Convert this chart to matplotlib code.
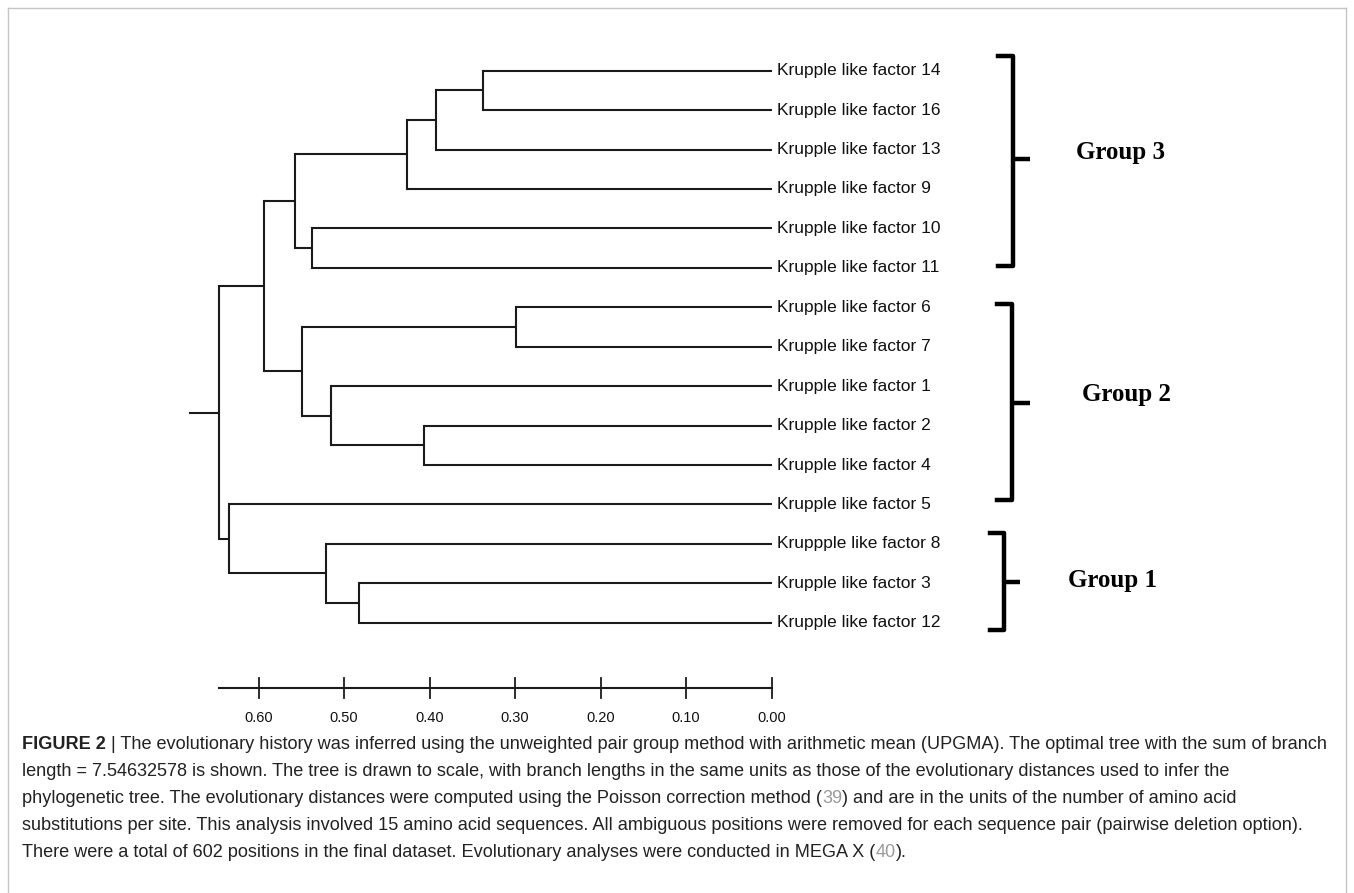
import matplotlib
matplotlib.use("Agg")
import matplotlib.pyplot as plt

# Leaves, top to bottom
leaf_names = [
    "Krupple like factor 14", "Krupple like factor 16", "Krupple like factor 13",
    "Krupple like factor 9", "Krupple like factor 10", "Krupple like factor 11",
    "Krupple like factor 6", "Krupple like factor 7", "Krupple like factor 1",
    "Krupple like factor 2", "Krupple like factor 4", "Krupple like factor 5",
    "Kruppple like factor 8", "Krupple like factor 3", "Krupple like factor 12",
]

# UPGMA merges (ids 0-14 are leaves, merge k gets id 15 + k)
merge_a = [6, 0, 16, 9, 17, 13, 8, 12, 4, 15, 19, 25, 11, 26]
merge_b = [7, 1, 2, 10, 3, 14, 18, 20, 5, 21, 23, 24, 22, 27]
merge_height = [0.299, 0.337, 0.392, 0.406, 0.426, 0.483, 0.515, 0.521,
                0.538, 0.549, 0.557, 0.593, 0.634, 0.646]
root_stub = 0.034

scale_ticks = [0.60, 0.50, 0.40, 0.30, 0.20, 0.10, 0.00]

group_names = ["Group 3", "Group 2", "Group 1"]

# caption lines; "|...|" marks the grey citation numbers
caption_lead = "FIGURE 2"
caption = [
    " | The evolutionary history was inferred using the unweighted pair group method "
    "with arithmetic mean (UPGMA). The optimal tree with the sum of branch",
    "length = 7.54632578 is shown. The tree is drawn to scale, with branch lengths in the "
    "same units as those of the evolutionary distances used to infer the",
    "phylogenetic tree. The evolutionary distances were computed using the Poisson "
    "correction method (|39|) and are in the units of the number of amino acid",
    "substitutions per site. This analysis involved 15 amino acid sequences. All ambiguous "
    "positions were removed for each sequence pair (pairwise deletion option).",
    "There were a total of 602 positions in the final dataset. Evolutionary analyses "
    "were conducted in MEGA X (|40|).",
]

W, H = 1354, 893
fig = plt.figure(figsize=(W / 100, H / 100), dpi=100)
ax = fig.add_axes([0, 0, 1, 1])
ax.axis("off")

# pixel layout of the tree: 0.00 at x=771.5, 0.1 per 85.5 px, leaves 39.43 px apart
ax.set_xlim(0.6 + 258.5 / 855, -(W - 771.5) / 855)
ax.set_ylim((H - 70.7) / 39.43, -70.7 / 39.43)

TREE = "#1a1a1a"
LW = 1.5

n = len(leaf_names)
ypos = {i: float(i) for i in range(n)}
xpos = {i: 0.0 for i in range(n)}
for k, (a, b, h) in enumerate(zip(merge_a, merge_b, merge_height)):
    node = n + k
    ypos[node] = (ypos[a] + ypos[b]) / 2
    xpos[node] = h
    ax.plot([h, h], [ypos[a], ypos[b]], color=TREE, lw=LW, solid_capstyle="projecting")
    for c in (a, b):
        ax.plot([h, xpos[c]], [ypos[c], ypos[c]], color=TREE, lw=LW, solid_capstyle="butt")

root = n + len(merge_height) - 1
ax.plot([xpos[root], xpos[root] + root_stub], [ypos[root], ypos[root]], color=TREE, lw=LW)

for i, name in enumerate(leaf_names):
    ax.annotate(name, xy=(0, i), xytext=(4, 0), textcoords="offset points",
                va="center", ha="left", fontsize=12.5, family="Liberation Sans", color="#111111")

# scale bar
bar_y = (688 - 70.7) / 39.43
ax.plot([xpos[root], 0.0], [bar_y, bar_y], color=TREE, lw=1.5)
for t in scale_ticks:
    ax.plot([t, t], [bar_y - 0.25, bar_y + 0.25], color=TREE, lw=1.3)
    ax.text(t, bar_y + 0.77, f"{t:.2f}", ha="center", va="center", fontsize=10.5,
            family="Liberation Sans", color="#111111")


def fx(px):
    return px / W


def fy(py):
    return 1 - py / H


# group brackets (pixel layout): top, bottom, mid, vertical x, arm x, tick x
brackets = [(56, 266, 159, 1013, 998, 1030),
            (304, 500, 403, 1012, 997, 1030),
            (533, 630, 582, 1004, 990, 1020)]
label_xy = [(1120, 152), (1127, 395), (1112, 580)]
for (top, bot, mid, xv, xa, xt), name, (lx, ly) in zip(brackets, group_names, label_xy):
    fig.add_artist(plt.Line2D([fx(xa), fx(xv), fx(xv), fx(xa)], [fy(top), fy(top), fy(bot), fy(bot)],
                              color="black", lw=3.2, solid_joinstyle="round"))
    fig.add_artist(plt.Line2D([fx(xv), fx(xt)], [fy(mid), fy(mid)], color="black", lw=3.2,
                              solid_capstyle="butt"))
    fig.text(fx(lx), fy(ly), name, ha="center", va="center", fontsize=18, weight="bold",
             family="Liberation Serif", color="black")

# caption: bold lead on the first line, grey citation numbers
CAP = dict(fontsize=13.1, family="Liberation Sans")
TXT, CITE = "#222222", "#9a9a9a"
baselines = [749, 776, 803, 830, 857]
for j, (line, by) in enumerate(zip(caption, baselines)):
    parts = line.split("|") if j > 0 else [line]
    if j == 0:
        prev = fig.text(fx(22), fy(by), caption_lead, ha="left", va="baseline",
                        weight="bold", color=TXT, **CAP)
        start = 0
    else:
        prev = fig.text(fx(22), fy(by), parts[0], ha="left", va="baseline", color=TXT, **CAP)
        start = 1
    for p in range(start, len(parts)):
        col = CITE if (j > 0 and p % 2 == 1) else TXT
        prev = ax.annotate(parts[p], xy=(1, 0), xycoords=prev, ha="left", va="bottom",
                           color=col, **CAP)

# thin frame around the figure
for xs, ys in [([8, 8], [892, 8]), ([8, 1346], [8, 8]), ([1346, 1346], [8, 892])]:
    fig.add_artist(plt.Line2D([fx(x) for x in xs], [fy(y) for y in ys], color="#c4c4c4", lw=1))

fig.savefig("out.png", dpi=100)
